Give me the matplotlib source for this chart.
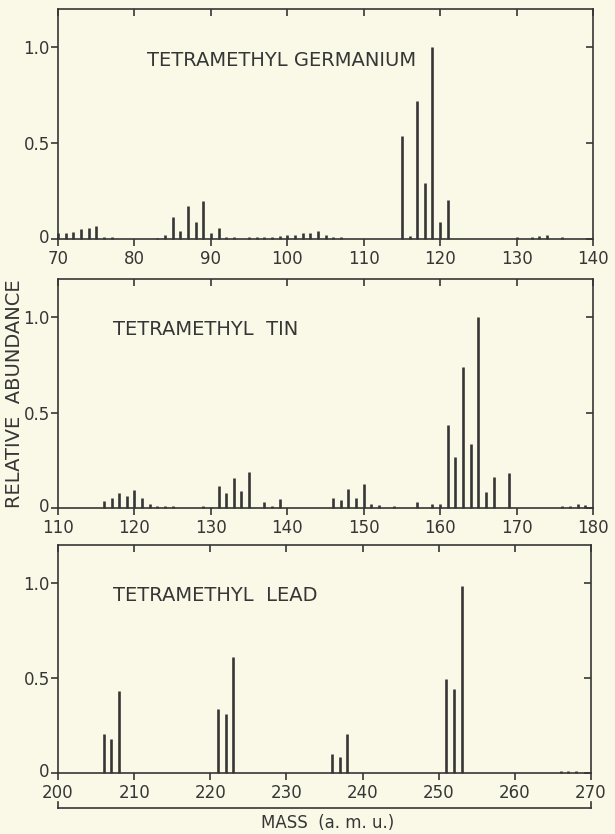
import matplotlib
matplotlib.use("Agg")
import matplotlib.pyplot as plt
import matplotlib.transforms as mtransforms
from matplotlib.lines import Line2D

# Tetramethyl germanium
ge_mass = [70, 71, 72, 73, 74, 75, 76, 77,
           83, 84, 85, 86, 87, 88, 89, 90, 91, 92, 93,
           95, 96, 97, 98, 99, 100, 101, 102, 103, 104, 105, 106, 107,
           115, 116, 117, 118, 119, 120, 121,
           130, 132, 133, 134, 136]
ge_abund = [0.03, 0.03, 0.035, 0.05, 0.06, 0.07, 0.01, 0.01,
            0.005, 0.02, 0.115, 0.04, 0.17, 0.09, 0.20, 0.03, 0.06, 0.01, 0.01,
            0.01, 0.01, 0.01, 0.01, 0.015, 0.02, 0.02, 0.03, 0.03, 0.04, 0.02, 0.01, 0.01,
            0.54, 0.015, 0.72, 0.29, 1.0, 0.09, 0.205,
            0.01, 0.01, 0.015, 0.02, 0.01]

# Tetramethyl tin
sn_mass = [116, 117, 118, 119, 120, 121, 122, 123, 124, 125,
           129, 130, 131, 132, 133, 134, 135, 137, 138, 139,
           146, 147, 148, 149, 150, 151, 152, 154, 157, 159, 160,
           161, 162, 163, 164, 165, 166, 167, 169,
           176, 177, 178, 179]
sn_abund = [0.035, 0.05, 0.08, 0.065, 0.095, 0.055, 0.02, 0.012, 0.012, 0.012,
            0.01, 0.005, 0.115, 0.08, 0.155, 0.09, 0.19, 0.03, 0.012, 0.045,
            0.055, 0.04, 0.10, 0.05, 0.125, 0.022, 0.018, 0.01, 0.03, 0.022, 0.022,
            0.435, 0.265, 0.74, 0.335, 1.0, 0.085, 0.165, 0.185,
            0.01, 0.01, 0.02, 0.015]

# Tetramethyl lead
pb_mass = [206, 207, 208, 221, 222, 223, 236, 237, 238, 251, 252, 253, 266, 267, 268]
pb_abund = [0.205, 0.18, 0.43, 0.335, 0.31, 0.61, 0.10, 0.085, 0.205,
            0.495, 0.44, 0.985, 0.01, 0.01, 0.01]

panels = [
    (ge_mass, ge_abund, (70, 140), "TETRAMETHYL GERMANIUM", 147),
    (sn_mass, sn_abund, (110, 180), "TETRAMETHYL  TIN", 113),
    (pb_mass, pb_abund, (200, 270), "TETRAMETHYL  LEAD", 113),
]

W, H = 615, 834
bg = "#faf9e7"
ink = "#363636"

fig = plt.figure(figsize=(W / 100, H / 100), dpi=100, facecolor=bg)

# pixel boxes: left, right, top, bottom
boxes = [(58, 593, 9, 239), (58, 593, 279, 508), (58, 591, 545, 773)]

for (mass, abund, xr, title, tx), (l, r, t, b) in zip(panels, boxes):
    ax = fig.add_axes([l / W, 1 - b / H, (r - l) / W, (b - t) / H])
    ax.set_facecolor(bg)
    ax.vlines(mass, 0, abund, color=ink, linewidth=1.9, clip_on=False)
    ax.set_xlim(*xr)
    ax.set_ylim(0, 1.2)
    ax.set_xticks(range(xr[0], xr[1] + 1, 10))
    ax.set_yticks([0, 0.5, 1.0])
    ax.set_yticklabels(["0", "0.5", "1.0"])
    for s in ax.spines.values():
        s.set_color(ink)
        s.set_linewidth(1.2)
    ax.tick_params(axis="both", which="both", direction="out", length=5,
                   width=1.2, color=ink, labelcolor=ink, labelsize=12)
    ax.tick_params(axis="x", pad=3)
    ax.tick_params(axis="y", pad=1)
    ax.tick_params(top=True, right=True)
    # inward ticks on top and right
    for tl in ax.xaxis.get_ticklines()[1::2]:
        tl.set_marker(3)
    for tl in ax.yaxis.get_ticklines()[1::2]:
        tl.set_marker(0)
    # nudge the "0" label up a couple of pixels so it clears the x labels
    zero = ax.get_yticklabels()[0]
    zero.set_transform(zero.get_transform()
                       + mtransforms.ScaledTranslation(0, 3 / 100, fig.dpi_scale_trans))
    ax.text((tx - l) / (r - l), 1 - (60 - 9) / (239 - 9), title,
            transform=ax.transAxes, fontsize=14, color=ink,
            ha="left", va="center")

# shared y label
fig.text(15 / W, 1 - 394 / H, "RELATIVE  ABUNDANCE", rotation=90,
         ha="center", va="center", fontsize=14, color=ink)

# bracket under the bottom axis
yb = 1 - 808 / H
fig.add_artist(Line2D([58 / W, 591 / W], [yb, yb], color=ink, lw=1.2))
fig.add_artist(Line2D([58 / W, 58 / W], [yb, yb + 6 / H], color=ink, lw=1.2))
fig.add_artist(Line2D([591 / W, 591 / W], [yb, yb + 6 / H], color=ink, lw=1.2))
fig.text(328 / W, 1 - 823 / H, "MASS  (a. m. u.)", ha="center", va="center",
         fontsize=12, color=ink)

fig.savefig("out.png", dpi=100, facecolor=bg)
